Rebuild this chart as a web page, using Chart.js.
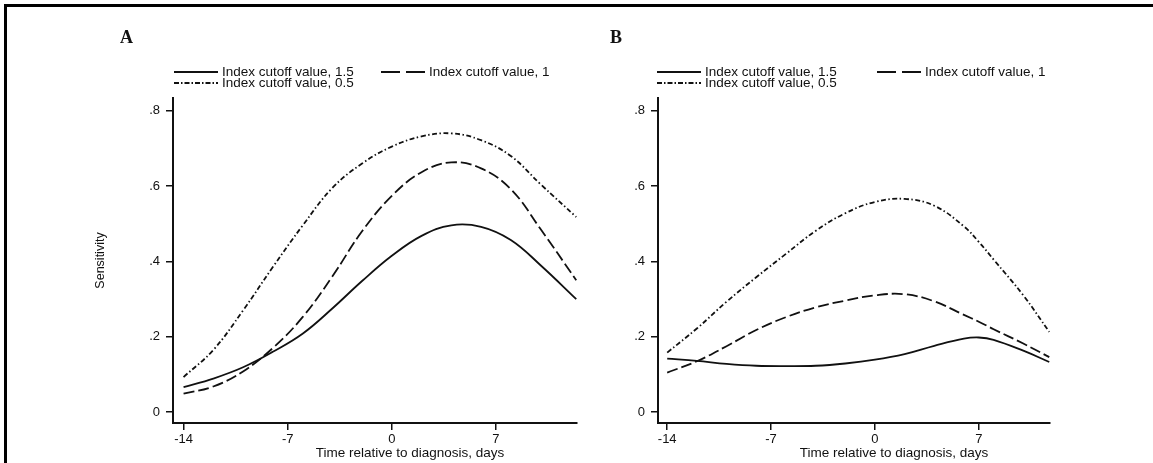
<!DOCTYPE html>
<html>
<head>
<meta charset="utf-8">
<title>Sensitivity by index cutoff</title>
<script src="https://cdn.jsdelivr.net/npm/chart.js@4.4.1/dist/chart.umd.min.js"></script>
<style>
  html, body { margin: 0; padding: 0; background: #fff; }
  body { width: 1153px; height: 463px; position: relative; overflow: hidden; }
  #frame { position: absolute; left: 4px; top: 4px; width: 1149px; height: 459px;
           border-top: 3px solid #000; border-left: 3px solid #000; box-sizing: border-box; }
  .panel { position: absolute; top: 0; }
  #panelA { left: 0; }
  #panelB { left: 580px; }
</style>
</head>
<body>
<div id="frame"></div>
<div class="panel" id="panelA"><canvas id="chartA" width="600" height="463"></canvas></div>
<div class="panel" id="panelB"><canvas id="chartB" width="573" height="463"></canvas></div>
<script>
// days relative to diagnosis and smoothed sensitivity, per cutoff
var daysA = [-14, -12, -10, -8, -6, -4, -2, 0, 2, 4, 6, 8, 10, 12.4];
var sensA15 = [0.066, 0.089, 0.119, 0.160, 0.208, 0.275, 0.348, 0.415, 0.468, 0.496, 0.492, 0.457, 0.390, 0.30];
var sensA10 = [0.049, 0.068, 0.108, 0.170, 0.252, 0.360, 0.480, 0.574, 0.637, 0.663, 0.647, 0.592, 0.486, 0.35];
var sensA05 = [0.093, 0.165, 0.270, 0.385, 0.495, 0.595, 0.660, 0.705, 0.732, 0.740, 0.722, 0.680, 0.605, 0.518];

var daysB = [-14, -12, -10, -8, -6, -4, -2, 0, 2, 4, 6, 7, 8, 10, 11.75];
var sensB15 = [0.142, 0.136, 0.128, 0.123, 0.122, 0.123, 0.129, 0.139, 0.154, 0.176, 0.195, 0.198, 0.192, 0.163, 0.133];
var sensB10 = [0.105, 0.135, 0.175, 0.218, 0.252, 0.278, 0.296, 0.310, 0.313, 0.294, 0.258, 0.240, 0.220, 0.182, 0.146];
var sensB05 = [0.158, 0.222, 0.293, 0.358, 0.420, 0.481, 0.528, 0.558, 0.566, 0.548, 0.493, 0.452, 0.405, 0.310, 0.213];

var seriesLabels = ['Index cutoff value, 1.5', 'Index cutoff value, 1', 'Index cutoff value, 0.5'];
var xTicks = [-14, -7, 0, 7];
var yTicks = [0, 0.2, 0.4, 0.6, 0.8];
var yTickLabels = ['0', '.2', '.4', '.6', '.8'];

var ink = '#111';
var sans = '"Liberation Sans", Arial, Helvetica, sans-serif';
// line patterns: curve dash / legend key dash
var curveDash = [[], [11, 4], [5, 2.5, 1.5, 2.5]];
var keyDash = [[], [19, 6], [5, 2, 1.5, 2]];

function toPoints(xs, ys) {
  return xs.map(function(x, i) { return {x: x, y: ys[i]}; });
}

// panel letter, line-key legend and x-axis title
var annotate = {
  id: 'annotate',
  afterDraw: function(chart, args, o) {
    var ctx = chart.ctx;
    ctx.save();
    ctx.fillStyle = ink;
    ctx.font = 'bold 18px "Liberation Serif", "Times New Roman", serif';
    ctx.textBaseline = 'alphabetic';
    ctx.fillText(o.tag, o.tagX, 43);

    ctx.font = '13.5px ' + sans;
    ctx.textBaseline = 'middle';
    o.keys.forEach(function(k, i) {
      ctx.strokeStyle = ink;
      ctx.lineWidth = 1.8;
      ctx.setLineDash(keyDash[i]);
      ctx.beginPath();
      ctx.moveTo(k.x, k.y);
      ctx.lineTo(k.x + 44, k.y);
      ctx.stroke();
      ctx.setLineDash([]);
      ctx.fillText(seriesLabels[i], k.x + 48, k.y);
    });

    ctx.textAlign = 'center';
    ctx.fillText('Time relative to diagnosis, days', o.xTitleX, 453);
    ctx.restore();
  }
};

function makePanel(id, days, series, p) {
  var datasets = series.map(function(ys, i) {
    return {
      label: seriesLabels[i],
      data: toPoints(days, ys),
      borderColor: ink,
      borderWidth: 1.8,
      borderDash: curveDash[i],
      pointRadius: 0,
      fill: false,
      tension: 0.4
    };
  });

  return new Chart(document.getElementById(id), {
    type: 'line',
    data: {datasets: datasets},
    plugins: [annotate],
    options: {
      responsive: false,
      animation: false,
      events: [],
      layout: {padding: p.padding},
      plugins: {
        legend: {display: false},
        tooltip: {enabled: false},
        annotate: p.annotate
      },
      scales: {
        x: {
          type: 'linear',
          min: p.xMin,
          max: p.xMax,
          afterBuildTicks: function(s) { s.ticks = xTicks.map(function(v) { return {value: v}; }); },
          afterFit: function(s) { s.height = 40; },
          grid: {display: true, drawOnChartArea: false, drawTicks: true, tickLength: 7, color: ink, lineWidth: 1.5},
          border: {display: true, color: ink, width: 2},
          ticks: {
            color: ink, padding: 2, maxRotation: 0, autoSkip: false,
            font: {family: sans, size: 13},
            callback: function(v) { return String(v); }
          }
        },
        y: {
          type: 'linear',
          min: -0.029,
          max: 0.834,
          afterBuildTicks: function(s) { s.ticks = yTicks.map(function(v) { return {value: v}; }); },
          afterFit: function(s) { s.width = p.yWidth; },
          grid: {display: true, drawOnChartArea: false, drawTicks: true, tickLength: 7, color: ink, lineWidth: 1.5},
          border: {display: true, color: ink, width: 2},
          ticks: {
            color: ink, padding: 6, autoSkip: false,
            font: {family: sans, size: 13},
            callback: function(v, i) { return yTickLabels[i]; }
          },
          title: {
            display: p.yTitle,
            text: 'Sensitivity',
            color: ink,
            padding: 0,
            font: {family: sans, size: 12.5}
          }
        }
      }
    }
  });
}

makePanel('chartA', daysA, [sensA15, sensA10, sensA05], {
  xMin: -14.71, xMax: 12.45, yWidth: 80, yTitle: true,
  padding: {left: 93, right: 23, top: 98, bottom: 0},
  annotate: {
    tag: 'A', tagX: 120, xTitleX: 410,
    keys: [{x: 174, y: 72}, {x: 381, y: 72}, {x: 174, y: 83}]
  }
});

makePanel('chartB', daysB, [sensB15, sensB10, sensB05], {
  xMin: -14.62, xMax: 11.8, yWidth: 40, yTitle: false,
  padding: {left: 38, right: 103, top: 98, bottom: 0},
  annotate: {
    tag: 'B', tagX: 30, xTitleX: 314,
    keys: [{x: 77, y: 72}, {x: 297, y: 72}, {x: 77, y: 83}]
  }
});
</script>
</body>
</html>
